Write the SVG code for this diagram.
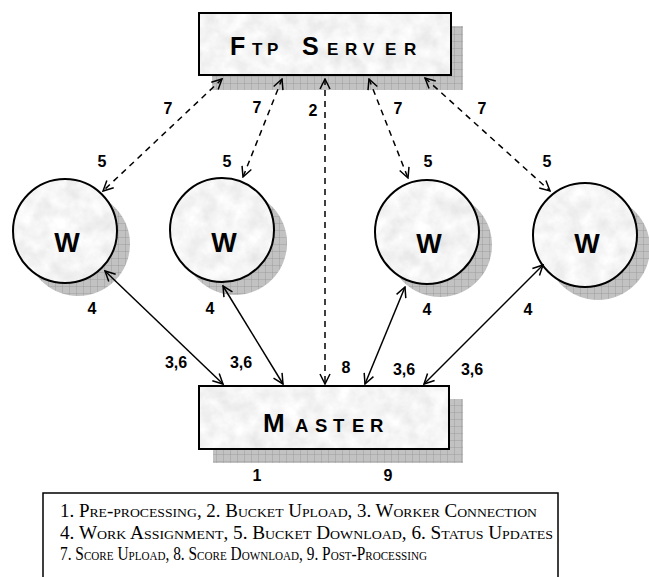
<svg xmlns="http://www.w3.org/2000/svg" width="649" height="577" viewBox="0 0 649 577">
<defs>
<pattern id="grid" width="7" height="7" patternUnits="userSpaceOnUse">
<rect width="7" height="7" fill="#c2c2c2"/>
<path d="M7 0V7M0 7H7" stroke="#8e8e8e" stroke-width="0.7" fill="none"/>
</pattern>
<filter id="marble" x="0" y="0" width="100%" height="100%">
<feTurbulence type="fractalNoise" baseFrequency="0.06" numOctaves="4" seed="7"/>
<feColorMatrix type="matrix" values="0.3 0 0 0 0.76  0.3 0 0 0 0.76  0.3 0 0 0 0.76  0 0 0 0 1"/>
<feComposite in2="SourceGraphic" operator="in"/>
</filter>
<marker id="ah" viewBox="0 0 12 12" refX="11" refY="6" markerWidth="12" markerHeight="12" markerUnits="userSpaceOnUse" orient="auto-start-reverse">
<path d="M1 1L11 6L1 11" fill="none" stroke="#000" stroke-width="1.5"/>
</marker>
</defs>
<style>
.edge{fill:none;stroke:#000;stroke-width:1.5;marker-start:url(#ah);marker-end:url(#ah)}
.dash{stroke-dasharray:6 5}
.shadow{fill:url(#grid)}
.tex{fill:#fff;filter:url(#marble)}
.outline{fill:none;stroke:#000;stroke-width:2}
.lbl{font-family:"Liberation Sans",Arial,sans-serif;font-weight:bold;font-size:16px;text-anchor:middle}
.big{font-family:"Liberation Sans",Arial,sans-serif;font-weight:bold}
.w{font-family:"Liberation Sans",Arial,sans-serif;font-weight:bold;font-size:27px;text-anchor:middle}
.legend{font-family:"Liberation Serif","Times New Roman",serif;font-size:18px;font-variant:small-caps}
</style>

<g id="ftp">
<rect class="shadow" x="212" y="26" width="251" height="64"/>
<rect class="tex" x="199" y="13" width="252" height="62"/>
<rect class="outline" x="199" y="13" width="252" height="62"/>
<text class="big" y="55"><tspan x="230" font-size="25">F</tspan><tspan x="252" font-size="17">T</tspan><tspan x="267" font-size="17">P</tspan><tspan x="302" font-size="25">S</tspan><tspan x="327" font-size="17">E</tspan><tspan x="345" font-size="17">R</tspan><tspan x="363" font-size="17">V</tspan><tspan x="385" font-size="17">E</tspan><tspan x="404" font-size="17">R</tspan></text>
</g>

<g id="master">
<rect class="shadow" x="213" y="399" width="250" height="64"/>
<rect class="tex" x="199" y="386" width="250" height="63"/>
<rect class="outline" x="199" y="386" width="250" height="63"/>
<text class="big" y="432"><tspan x="263" font-size="26">M</tspan><tspan x="295" font-size="18.5">A</tspan><tspan x="315" font-size="18.5">S</tspan><tspan x="333" font-size="18.5">T</tspan><tspan x="352" font-size="18.5">E</tspan><tspan x="370" font-size="18.5">R</tspan></text>
</g>

<g id="w1">
<circle class="shadow" cx="78" cy="244" r="52"/>
<circle class="tex" cx="65" cy="231" r="52"/>
<circle class="outline" cx="65" cy="231" r="52" stroke-width="1.5"/>
<text class="w" x="67" y="252">W</text>
</g>
<g id="w2">
<circle class="shadow" cx="235" cy="243" r="52"/>
<circle class="tex" cx="222" cy="230" r="52"/>
<circle class="outline" cx="222" cy="230" r="52" stroke-width="1.5"/>
<text class="w" x="224" y="252">W</text>
</g>
<g id="w3">
<circle class="shadow" cx="440" cy="245" r="52"/>
<circle class="tex" cx="427" cy="232" r="52"/>
<circle class="outline" cx="427" cy="232" r="52" stroke-width="1.5"/>
<text class="w" x="429" y="253">W</text>
</g>
<g id="w4">
<circle class="shadow" cx="598" cy="248" r="52"/>
<circle class="tex" cx="585" cy="235" r="52"/>
<circle class="outline" cx="585" cy="235" r="52" stroke-width="1.5"/>
<text class="w" x="587" y="253">W</text>
</g>

<g id="connectors">
<line class="edge dash" x1="222" y1="79" x2="103" y2="191"/>
<line class="edge dash" x1="282" y1="79" x2="243" y2="177"/>
<line class="edge dash" x1="325" y1="79" x2="325" y2="384"/>
<line class="edge dash" x1="369" y1="79" x2="408" y2="178"/>
<line class="edge dash" x1="425" y1="78" x2="550" y2="191"/>
<line class="edge" x1="105" y1="271" x2="223" y2="384"/>
<line class="edge" x1="223" y1="286" x2="283" y2="384"/>
<line class="edge" x1="405" y1="287" x2="365" y2="384"/>
<line class="edge" x1="543" y1="265" x2="424" y2="384"/>
</g>

<g id="labels">
<text class="lbl" x="168" y="114">7</text>
<text class="lbl" x="257" y="113">7</text>
<text class="lbl" x="313" y="116">2</text>
<text class="lbl" x="398" y="114">7</text>
<text class="lbl" x="482" y="114">7</text>
<text class="lbl" x="102" y="167">5</text>
<text class="lbl" x="227" y="167">5</text>
<text class="lbl" x="428" y="167">5</text>
<text class="lbl" x="547" y="167">5</text>
<text class="lbl" x="92" y="314">4</text>
<text class="lbl" x="210" y="314">4</text>
<text class="lbl" x="427" y="315">4</text>
<text class="lbl" x="528" y="315">4</text>
<text class="lbl" x="176" y="368">3,6</text>
<text class="lbl" x="241" y="368">3,6</text>
<text class="lbl" x="346" y="373">8</text>
<text class="lbl" x="404" y="375">3,6</text>
<text class="lbl" x="472" y="375">3,6</text>
<text class="lbl" x="257" y="481">1</text>
<text class="lbl" x="388" y="481">9</text>
</g>

<g id="legend">
<rect x="43" y="493" width="515" height="86" fill="#fff" stroke="#000" stroke-width="1.5"/>
<text class="legend" x="60" y="517" textLength="477" lengthAdjust="spacingAndGlyphs">1. Pre-processing, 2. Bucket Upload, 3. Worker Connection</text>
<text class="legend" x="60" y="539" textLength="493" lengthAdjust="spacingAndGlyphs">4. Work Assignment, 5. Bucket Download, 6. Status Updates</text>
<text class="legend" x="60" y="560" textLength="367" lengthAdjust="spacingAndGlyphs">7. Score Upload, 8. Score Download, 9. Post-Processing</text>
</g>
</svg>
